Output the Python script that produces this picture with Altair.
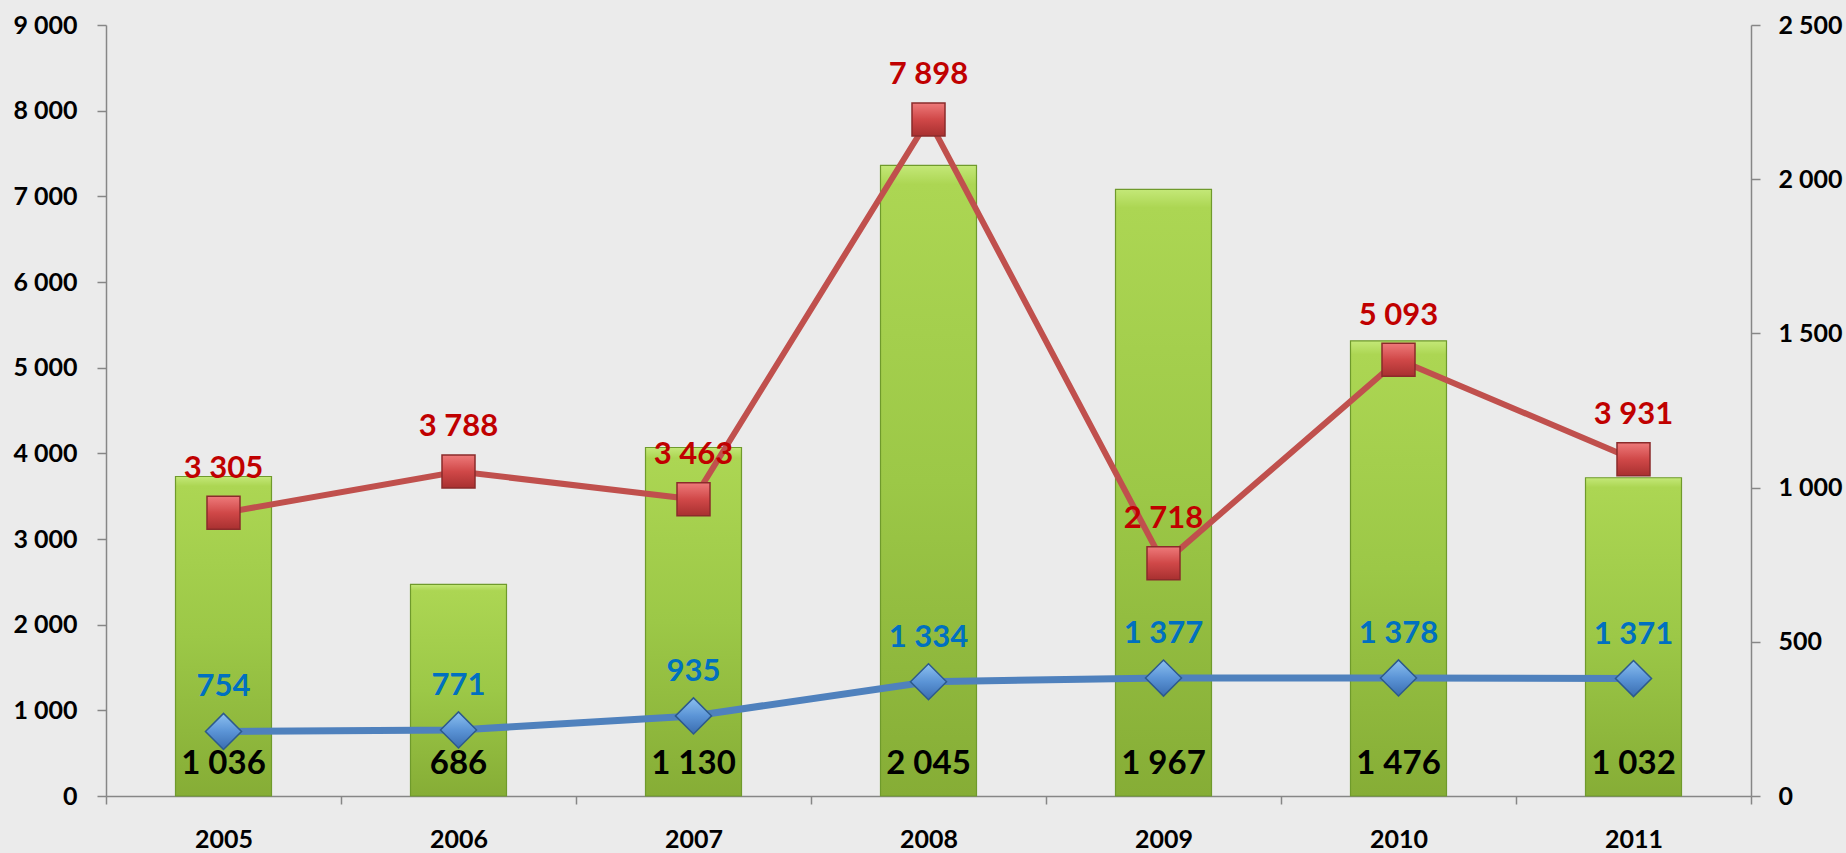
import altair as alt
import pandas as pd

years = ["2005", "2006", "2007", "2008", "2009", "2010", "2011"]
bar_values = [1036, 686, 1130, 2045, 1967, 1476, 1032]
red_values = [3305, 3788, 3463, 7898, 2718, 5093, 3931]
blue_values = [754, 771, 935, 1334, 1377, 1378, 1371]
left_ticks = [0, 1000, 2000, 3000, 4000, 5000, 6000, 7000, 8000, 9000]
right_ticks = [0, 500, 1000, 1500, 2000, 2500]


def fmt(v):
    return f"{v:,}".replace(",", " ")


df = pd.DataFrame({
    "year": years,
    "bar": bar_values,
    "red": red_values,
    "blue": blue_values,
    "zero": [0] * len(years),
    "bar_label": [fmt(v) for v in bar_values],
    "red_label": [fmt(v) for v in red_values],
    "blue_label": [fmt(v) for v in blue_values],
})

FONT = "Lato"
AXIS_COLOR = "#868686"
space_expr = "replace(format(datum.value, ','), ',', ' ')"

x_enc = alt.X(
    "year:N", sort=years, title=None,
    scale=alt.Scale(paddingInner=0, paddingOuter=0),
    axis=alt.Axis(
        tickBand="extent", labelAngle=0, labelFont=FONT, labelFontSize=25,
        labelFontWeight="bold", labelColor="#000000", domainColor=AXIS_COLOR,
        tickColor=AXIS_COLOR, domainWidth=1.5, tickWidth=1.5, tickSize=8,
        labelPadding=23, grid=False,
    ),
)

left_scale = alt.Scale(domain=[0, 9000], nice=False, zero=True)
right_scale = alt.Scale(domain=[0, 2500], nice=False, zero=True)

left_axis = alt.Axis(
    orient="left", values=left_ticks, title=None, grid=False, tickSize=9,
    labelPadding=20, labelExpr=space_expr, labelFont=FONT, labelFontSize=25,
    labelFontWeight="bold", labelColor="#000000", domainColor=AXIS_COLOR,
    tickColor=AXIS_COLOR, domainWidth=1.5, tickWidth=1.5,
)
right_axis = alt.Axis(
    orient="right", values=right_ticks, title=None, grid=False, tickSize=9,
    labelPadding=18, labelExpr=space_expr, labelFont=FONT, labelFontSize=25,
    labelFontWeight="bold", labelColor="#000000", domainColor=AXIS_COLOR,
    tickColor=AXIS_COLOR, domainWidth=1.5, tickWidth=1.5,
)

bar_grad = alt.Gradient(
    gradient="linear", x1=0, x2=0, y1=0, y2=1,
    stops=[
        alt.GradientStop(color="#c4e878", offset=0),
        alt.GradientStop(color="#acd653", offset=0.03),
        alt.GradientStop(color="#9cc847", offset=0.5),
        alt.GradientStop(color="#86ad36", offset=1),
    ],
)
red_grad = alt.Gradient(
    gradient="linear", x1=0, x2=0, y1=0, y2=1,
    stops=[
        alt.GradientStop(color="#ee7a7a", offset=0),
        alt.GradientStop(color="#d04848", offset=0.5),
        alt.GradientStop(color="#a83030", offset=1),
    ],
)
blue_grad = alt.Gradient(
    gradient="linear", x1=0, x2=0, y1=0, y2=1,
    stops=[
        alt.GradientStop(color="#8cc0f0", offset=0),
        alt.GradientStop(color="#5b94d6", offset=0.5),
        alt.GradientStop(color="#3a6db0", offset=1),
    ],
)

base = alt.Chart(df)

bars = base.mark_bar(size=96, fill=bar_grad, stroke="#6f9a2c", strokeWidth=1.2).encode(
    x=x_enc, y=alt.Y("bar:Q", scale=right_scale, axis=right_axis)
)
bar_labels = base.mark_text(
    font=FONT, fontSize=33, fontWeight="bold", color="#000000",
    baseline="alphabetic", dy=-22,
).encode(
    x=x_enc, y=alt.Y("zero:Q", scale=right_scale, axis=right_axis),
    text="bar_label:N",
)
right_group = alt.layer(bars, bar_labels)

red_line = base.mark_line(color="#c0504d", strokeWidth=6).encode(
    x=x_enc, y=alt.Y("red:Q", scale=left_scale, axis=left_axis)
)
blue_line = base.mark_line(color="#4f81bd", strokeWidth=7).encode(
    x=x_enc, y=alt.Y("blue:Q", scale=left_scale, axis=left_axis)
)
red_pts = base.mark_point(
    shape="square", size=1089, filled=True, fill=red_grad, stroke="#8b2b2b",
    strokeWidth=1.5, opacity=1,
).encode(x=x_enc, y=alt.Y("red:Q", scale=left_scale, axis=left_axis))
blue_pts = base.mark_point(
    shape="diamond", size=1300, filled=True, fill=blue_grad, stroke="#2d5a8c",
    strokeWidth=1.5, opacity=1,
).encode(x=x_enc, y=alt.Y("blue:Q", scale=left_scale, axis=left_axis))
red_text = base.mark_text(
    font=FONT, fontSize=31, fontWeight="bold", color="#c00000",
    baseline="alphabetic", dy=-35,
).encode(
    x=x_enc, y=alt.Y("red:Q", scale=left_scale, axis=left_axis), text="red_label:N"
)
blue_text = base.mark_text(
    font=FONT, fontSize=31, fontWeight="bold", color="#0070c0",
    baseline="alphabetic", dy=-35,
).encode(
    x=x_enc, y=alt.Y("blue:Q", scale=left_scale, axis=left_axis), text="blue_label:N"
)
left_group = alt.layer(red_line, blue_line, red_pts, blue_pts, red_text, blue_text)

chart = (
    alt.layer(right_group, left_group)
    .resolve_scale(y="independent")
    .properties(
        width=1645, height=771,
        autosize=alt.AutoSizeParams(type="none"),
        padding={"left": 106, "top": 25, "right": 95, "bottom": 57},
        background="#ebebeb",
    )
    .configure_view(stroke=None)
)

chart.save("out.html", embed_options={"renderer": "svg", "actions": False})
